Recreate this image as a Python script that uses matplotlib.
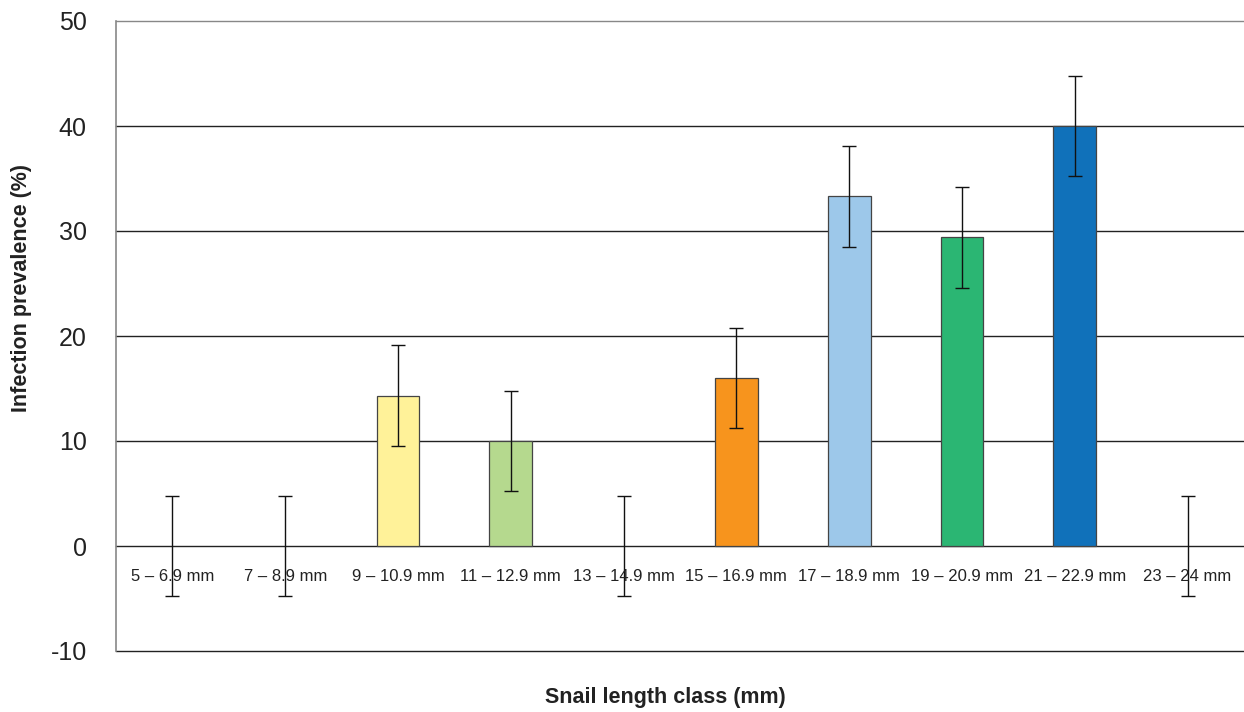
import numpy as np
import matplotlib.pyplot as plt

plt.rcParams['font.family'] = ['Liberation Sans', 'DejaVu Sans']
plt.rcParams['axes.unicode_minus'] = False

# data
classes = ['5 – 6.9 mm', '7 – 8.9 mm', '9 – 10.9 mm', '11 – 12.9 mm', '13 – 14.9 mm',
           '15 – 16.9 mm', '17 – 18.9 mm', '19 – 20.9 mm', '21 – 22.9 mm', '23 – 24 mm']
prevalence = [0, 0, 14.3, 10, 0, 16, 33.3, 29.4, 40, 0]
err = [4.8, 4.8, 4.8, 4.8, 4.8, 4.8, 4.8, 4.8, 4.8, 4.8]
colors = ['#FFFFFF', '#FFFFFF', '#FFF299', '#B5D98E', '#FFFFFF',
          '#F7941D', '#9DC8EA', '#2BB673', '#1071BA', '#FFFFFF']
yticks = [-10, 0, 10, 20, 30, 40, 50]

fig = plt.figure(figsize=(12.44, 7.12), dpi=100)
ax = fig.add_axes([116/1244, 61/712, 1128/1244, 630/712])

x = np.arange(len(classes))
edges = ['#444444' if v > 0 else 'none' for v in prevalence]
ax.bar(x, prevalence, width=0.38, color=colors, edgecolor=edges, linewidth=0.9, zorder=3)
ax.errorbar(x, prevalence, yerr=err, fmt='none', ecolor='#111111', elinewidth=1,
            capsize=5, capthick=1, zorder=4)

for i, lab in enumerate(classes):
    ax.text(i, -2.9, lab, ha='center', va='center', fontsize=12, color='#222222', zorder=5)

ax.set_xlim(-0.5, len(classes) - 0.5)
ax.set_ylim(-10, 50)
ax.set_yticks(yticks)
ax.set_xticks([])
ax.tick_params(axis='y', length=0, pad=21, labelsize=18, labelcolor='#222222')
ax.yaxis.grid(True, color='#222222', linewidth=1, zorder=0)
ax.set_axisbelow(True)
glines = ax.get_ygridlines()
for gl in glines:
    gl.set_clip_on(False)
glines[-1].set_color('#888888')
for s in ['top', 'right', 'bottom']:
    ax.spines[s].set_visible(False)
ax.spines['left'].set_color('#888888')
ax.spines['left'].set_linewidth(1.2)

fig.text(22/1244, 1 - 288/712, 'Infection prevalence (%)', rotation=90, ha='center',
         va='center', fontsize=15.5, fontweight='bold', color='#222222')
fig.text(665/1244, 1 - 697/712, 'Snail length class (mm)', ha='center', va='center',
         fontsize=15.5, fontweight='bold', color='#222222')

fig.savefig('out.png', dpi=100)
